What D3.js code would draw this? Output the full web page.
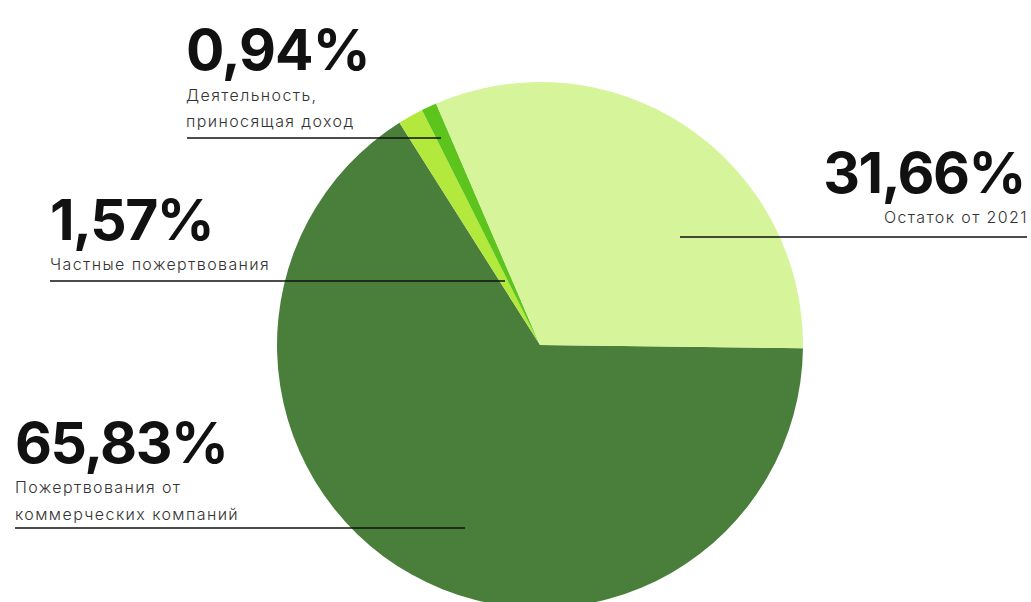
<!DOCTYPE html>
<meta charset="utf-8">
<style>
body{margin:0;background:#fff;}
text{font-family:'Inter','Open Sans',sans-serif;fill:#111;}
.big{font-weight:700;}
.sub{font-weight:300;fill:#333;}
</style>
<svg id="svg"></svg>
<script src="https://cdn.jsdelivr.net/npm/d3@7"></script>
<script>
var width = 1031, height = 602;

// slices, clockwise from just below 3 o'clock
var names = ['Пожертвования от коммерческих компаний', 'Частные пожертвования',
             'Деятельность, приносящая доход', 'Остаток от 2021'];
var values = [65.83, 1.57, 0.94, 31.66];
var colours = ['#4a7e3b', '#b3e83c', '#5cc41c', '#d6f59b'];

// label blocks
var pct = ['65,83%', '1,57%', '0,94%', '31,66%'];
var lines = [['Пожертвования от', 'коммерческих компаний'], ['Частные пожертвования'],
             ['Деятельность,', 'приносящая доход'], ['Остаток от 2021']];

var cx = 540, cy = 345, r = 263;
var start = 90.7 * Math.PI / 180;

var svg = d3.select('#svg').attr('width', width).attr('height', height);

var pie = d3.pie().sort(null).startAngle(start).endAngle(start + 2 * Math.PI);
var arc = d3.arc().innerRadius(0).outerRadius(r);

svg.append('g').attr('transform', 'translate(' + cx + ',' + cy + ')')
  .selectAll('path')
  .data(pie(values))
  .enter().append('path')
  .attr('d', arc)
  .attr('fill', (d, i) => colours[i]);

// label placement (x of text, leader end, baselines)
var lab = [
  {x: 15, anchor: 'start', big: 463, subs: [493, 520], ly: 528, x1: 15, x2: 465, ls: '-1.5px'},
  {x: 50, anchor: 'start', big: 240, subs: [270], ly: 281, x1: 50, x2: 505, ls: '-1.5px'},
  {x: 186, anchor: 'start', big: 70, subs: [101, 127], ly: 138, x1: 187, x2: 441, ls: '-1px'},
  {x: 1027, anchor: 'end', big: 193, subs: [223], ly: 237, x1: 680, x2: 1027, ls: '-1.5px'}
];

var g = svg.append('g');
lab.forEach((l, i) => {
  g.append('text').attr('class', 'big')
    .attr('x', l.anchor == 'end' ? l.x - 2 : l.x).attr('y', l.big)
    .attr('text-anchor', l.anchor)
    .style('font-size', '57px')
    .style('letter-spacing', l.ls)
    .text(pct[i]);
  lines[i].forEach((s, j) => {
    g.append('text').attr('class', 'sub')
      .attr('x', l.anchor == 'end' ? l.x + 1 : l.x).attr('y', l.subs[j])
      .attr('text-anchor', l.anchor)
      .style('font-size', '16px')
      .style('letter-spacing', '1.4px')
      .text(s);
  });
  g.append('line')
    .attr('x1', l.x1).attr('x2', l.x2)
    .attr('y1', l.ly).attr('y2', l.ly)
    .attr('stroke', '#111').attr('stroke-width', 1.5);
});
</script>
